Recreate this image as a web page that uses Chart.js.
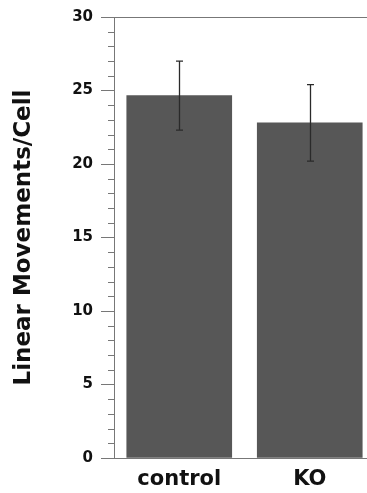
<!DOCTYPE html>
<html>
<head>
<meta charset="utf-8">
<script src="https://cdn.jsdelivr.net/npm/chart.js@4"></script>
<style>
  html, body { margin: 0; padding: 0; background: #fff; overflow: hidden; }
</style>
</head>
<body>
<canvas id="chart" width="375" height="493"></canvas>
<script>
// data
var groups = ['control', 'KO'];
var means = [24.65, 22.8];
var errors = [2.35, 2.6];
var yTitle = 'Linear Movements/Cell';

var font = 'DejaVu Sans';

// error bars + minor ticks
var extras = {
	id: 'extras',
	afterDatasetsDraw: function(chart){
		var ctx = chart.ctx;
		var x = chart.scales.x, y = chart.scales.y;
		ctx.save();
		ctx.strokeStyle = '#2a2a2a';
		ctx.lineWidth = 1.3;
		for(var i = 0; i < means.length; i++){
			var px = Math.round(x.getPixelForValue(i)) + 0.5;
			var top = y.getPixelForValue(means[i] + errors[i]);
			var bot = y.getPixelForValue(means[i] - errors[i]);
			ctx.beginPath();
			ctx.moveTo(px, top); ctx.lineTo(px, bot);
			ctx.moveTo(px - 3.5, top); ctx.lineTo(px + 3.5, top);
			ctx.moveTo(px - 3.5, bot); ctx.lineTo(px + 3.5, bot);
			ctx.stroke();
		}
		// minor ticks
		ctx.strokeStyle = '#777';
		ctx.lineWidth = 1;
		y.ticks.forEach(function(t){
			if(t.value % 5 === 0) return;
			var py = Math.round(y.getPixelForValue(t.value)) + 0.5;
			ctx.beginPath();
			ctx.moveTo(y.right - 6, py); ctx.lineTo(y.right, py);
			ctx.stroke();
		});
		ctx.restore();
	}
};

var ctx = document.getElementById('chart').getContext('2d');
var mychart = new Chart(ctx, {
	type: 'bar',
	data: {
		labels: groups,
		datasets: [{
			data: means,
			backgroundColor: '#575757',
			borderWidth: 0,
			barThickness: 105
		}]
	},
	options: {
		responsive: false,
		animation: false,
		devicePixelRatio: 1,
		layout: { padding: 0 },
		plugins: { legend: { display: false }, tooltip: { enabled: false } },
		scales: {
			x: {
				position: 'bottom',
				grid: { display: false, drawTicks: false },
				border: { display: true, color: '#777', width: 1 },
				ticks: { color: '#111', font: { family: font, size: 21, weight: 'bold' }, padding: 9 },
				afterFit: function(s){ s.height = 35; }
			},
			xTop: {
				position: 'top',
				grid: { display: false, drawTicks: false },
				border: { display: true, color: '#777', width: 1 },
				ticks: { display: false },
				afterFit: function(s){ s.height = 17; }
			},
			y: {
				min: 0,
				max: 30,
				grid: { drawOnChartArea: false, tickLength: 13, color: '#777',
					tickColor: function(c){ return c.tick && c.tick.value % 5 === 0 ? '#777' : 'rgba(0,0,0,0)'; } },
				border: { display: true, color: '#777', width: 1 },
				ticks: {
					stepSize: 1,
					autoSkip: false,
					padding: 8,
					color: '#111',
					font: { family: font, size: 15, weight: 'bold' },
					callback: function(v){ return v % 5 === 0 ? v : ''; }
				},
				title: {
					display: true,
					text: yTitle,
					color: '#111',
					font: { family: font, size: 23, weight: 'bold' },
					padding: { top: 10, bottom: 0 }
				},
				afterFit: function(s){ s.width = 114; }
			}
		}
	},
	plugins: [extras]
});
</script>
</body>
</html>
